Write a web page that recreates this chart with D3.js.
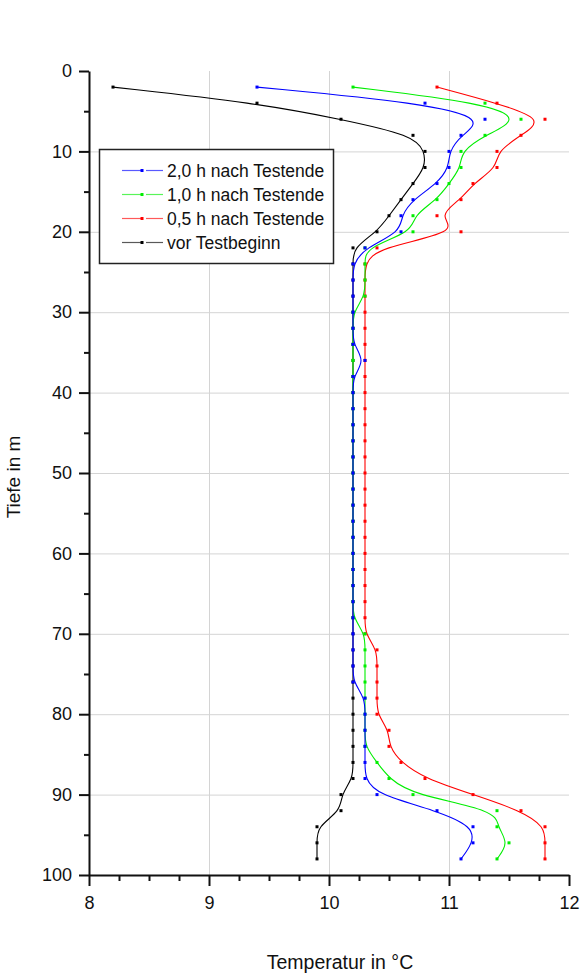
<!DOCTYPE html>
<html>
<head>
<meta charset="utf-8">
<script src="https://cdn.jsdelivr.net/npm/d3@7"></script>
<style>
	body { margin: 0; background: #fff; }
	svg { display: block; font-family: "Liberation Sans", Arial, sans-serif; }
	.grid line { stroke: #d4d4d4; stroke-width: 1; }
	.grid path { display: none; }
	.axis path, .axis line { stroke: #111; stroke-width: 2; }
	.axis text { fill: #111; font-size: 18px; }
</style>
</head>
<body>
<svg id="chart" width="584" height="974"></svg>
<script>
// depth in m (same for every series)
const depths = [2, 4, 6, 8, 10, 12, 14, 16, 18, 20, 22, 24, 26, 28, 30, 32, 34, 36, 38, 40,
	42, 44, 46, 48, 50, 52, 54, 56, 58, 60, 62, 64, 66, 68, 70, 72, 74, 76, 78, 80,
	82, 84, 86, 88, 90, 92, 94, 96, 98];

// temperatures in °C
const tempBefore = [8.2, 9.4, 10.1, 10.7, 10.8, 10.8, 10.7, 10.6, 10.5, 10.4,
	10.2, 10.2, 10.2, 10.2, 10.2, 10.2, 10.2, 10.2, 10.2, 10.2,
	10.2, 10.2, 10.2, 10.2, 10.2, 10.2, 10.2, 10.2, 10.2, 10.2,
	10.2, 10.2, 10.2, 10.2, 10.2, 10.2, 10.2, 10.2, 10.2, 10.2,
	10.2, 10.2, 10.2, 10.2, 10.1, 10.1, 9.9, 9.9, 9.9];

const temp05h = [10.9, 11.4, 11.8, 11.6, 11.4, 11.4, 11.2, 11.1, 10.9, 11.1,
	10.4, 10.3, 10.3, 10.3, 10.3, 10.3, 10.3, 10.3, 10.3, 10.3,
	10.3, 10.3, 10.3, 10.3, 10.3, 10.3, 10.3, 10.3, 10.3, 10.3,
	10.3, 10.3, 10.3, 10.3, 10.3, 10.4, 10.4, 10.4, 10.4, 10.4,
	10.5, 10.5, 10.6, 10.8, 11.2, 11.6, 11.8, 11.8, 11.8];

const temp10h = [10.2, 11.3, 11.6, 11.3, 11.1, 11.1, 11.0, 10.9, 10.7, 10.7,
	10.3, 10.3, 10.3, 10.3, 10.2, 10.2, 10.2, 10.2, 10.2, 10.2,
	10.2, 10.2, 10.2, 10.2, 10.2, 10.2, 10.2, 10.2, 10.2, 10.2,
	10.2, 10.2, 10.2, 10.2, 10.3, 10.3, 10.3, 10.3, 10.3, 10.3,
	10.3, 10.3, 10.4, 10.5, 10.7, 11.4, 11.4, 11.5, 11.4];

const temp20h = [9.4, 10.8, 11.3, 11.1, 11.0, 11.0, 10.9, 10.7, 10.6, 10.6,
	10.3, 10.2, 10.2, 10.2, 10.2, 10.2, 10.2, 10.3, 10.2, 10.2,
	10.2, 10.2, 10.2, 10.2, 10.2, 10.2, 10.2, 10.2, 10.2, 10.2,
	10.2, 10.2, 10.2, 10.2, 10.2, 10.2, 10.2, 10.2, 10.3, 10.3,
	10.3, 10.3, 10.3, 10.3, 10.4, 10.9, 11.2, 11.2, 11.1];

// legend order (top first); drawing order is reversed
const seriesNames = ['2,0 h nach Testende', '1,0 h nach Testende', '0,5 h nach Testende', 'vor Testbeginn'];
const seriesColors = ['#0000ff', '#00ee00', '#ff0000', '#000000'];
const seriesValues = [temp20h, temp10h, temp05h, tempBefore];

const xTicks = [8, 9, 10, 11, 12];
const xMinorTicks = [8.25, 8.5, 8.75, 9.25, 9.5, 9.75, 10.25, 10.5, 10.75, 11.25, 11.5, 11.75];
const yTicks = [0, 10, 20, 30, 40, 50, 60, 70, 80, 90, 100];
const yMinorTicks = [5, 15, 25, 35, 45, 55, 65, 75, 85, 95];

const xTitle = 'Temperatur in °C';
const yTitle = 'Tiefe in m';

const svg = d3.select('#chart');

const margin = { left: 89, right: 14, top: 71, bottom: 99 };
const W = 584, H = 974;

const x = d3.scaleLinear().domain([8, 12]).range([margin.left, W - margin.right - 1]);
const y = d3.scaleLinear().domain([0, 100]).range([margin.top, H - margin.bottom]);

// grid
svg.append('g')
	.attr('class', 'grid')
	.attr('transform', `translate(0,${y(100)})`)
	.call(d3.axisBottom(x).tickValues([9, 10, 11]).tickSize(-(y(100) - y(0))).tickFormat(''));

svg.append('g')
	.attr('class', 'grid')
	.attr('transform', `translate(${x(8)},0)`)
	.call(d3.axisLeft(y).tickValues(yTicks.slice(1, -1)).tickSize(-(x(12) - x(8))).tickFormat(''));

// series
const line = d3.line()
	.x(d => x(d.t))
	.y(d => y(d.d))
	.curve(d3.curveBasis);

const series = seriesValues.map((vals, i) => ({
	name: seriesNames[i],
	color: seriesColors[i],
	points: depths.map((d, j) => ({ d: d, t: vals[j] }))
})).reverse();

const sg = svg.selectAll('.series')
	.data(series)
	.enter()
	.append('g')
	.attr('class', 'series');

sg.append('path')
	.attr('d', s => line(s.points))
	.attr('fill', 'none')
	.attr('stroke', s => s.color)
	.attr('stroke-width', 1.1);

sg.selectAll('rect')
	.data(s => s.points.map(p => ({ p: p, color: s.color })))
	.enter()
	.append('rect')
	.attr('x', d => x(d.p.t) - 1.5)
	.attr('y', d => y(d.p.d) - 1.5)
	.attr('width', 3)
	.attr('height', 3)
	.attr('fill', d => d.color);

// axes
const xAxis = svg.append('g')
	.attr('class', 'axis')
	.attr('transform', `translate(0,${y(100)})`)
	.call(d3.axisBottom(x).tickValues(xTicks).tickSize(11).tickSizeOuter(0).tickPadding(10).tickFormat(d3.format('d')));

svg.append('g')
	.attr('class', 'axis')
	.attr('transform', `translate(0,${y(100)})`)
	.call(d3.axisBottom(x).tickValues(xMinorTicks).tickSize(6).tickSizeOuter(0).tickFormat(''))
	.select('.domain').remove();

svg.append('g')
	.attr('class', 'axis')
	.attr('transform', `translate(${x(8)},0)`)
	.call(d3.axisLeft(y).tickValues(yTicks).tickSize(10).tickSizeOuter(0).tickPadding(7).tickFormat(d3.format('d')));

svg.append('g')
	.attr('class', 'axis')
	.attr('transform', `translate(${x(8)},0)`)
	.call(d3.axisLeft(y).tickValues(yMinorTicks).tickSize(5).tickSizeOuter(0).tickFormat(''))
	.select('.domain').remove();

// axis titles
svg.append('text')
	.attr('x', 340)
	.attr('y', 969)
	.attr('text-anchor', 'middle')
	.attr('font-size', 19.5)
	.attr('fill', '#111')
	.text(xTitle);

svg.append('text')
	.attr('transform', 'translate(20,477) rotate(-90)')
	.attr('text-anchor', 'middle')
	.attr('font-size', 19)
	.attr('fill', '#111')
	.text(yTitle);

// legend
const legend = svg.append('g');

legend.append('rect')
	.attr('x', 99.5)
	.attr('y', 149.5)
	.attr('width', 234)
	.attr('height', 114)
	.attr('fill', '#fff')
	.attr('stroke', '#222')
	.attr('stroke-width', 1.5);

const items = legend.selectAll('.item')
	.data(seriesNames.map((n, i) => ({ name: n, color: seriesColors[i], i: i })))
	.enter()
	.append('g')
	.attr('class', 'item')
	.attr('transform', d => `translate(0,${170.5 + d.i * 24})`);

items.append('line')
	.attr('x1', 122).attr('x2', 142)
	.attr('stroke', d => d.color)
	.attr('stroke-opacity', 0.65)
	.attr('stroke-width', 1.2);

items.append('line')
	.attr('x1', 146).attr('x2', 163)
	.attr('stroke', d => d.color)
	.attr('stroke-opacity', 0.65)
	.attr('stroke-width', 1.2);

items.append('rect')
	.attr('x', 140.5).attr('y', -1.5)
	.attr('width', 3).attr('height', 3)
	.attr('fill', d => d.color);

items.append('text')
	.attr('x', 167)
	.attr('y', 6.3)
	.attr('font-size', 17.5)
	.attr('fill', '#111')
	.text(d => d.name);
</script>
</body>
</html>
